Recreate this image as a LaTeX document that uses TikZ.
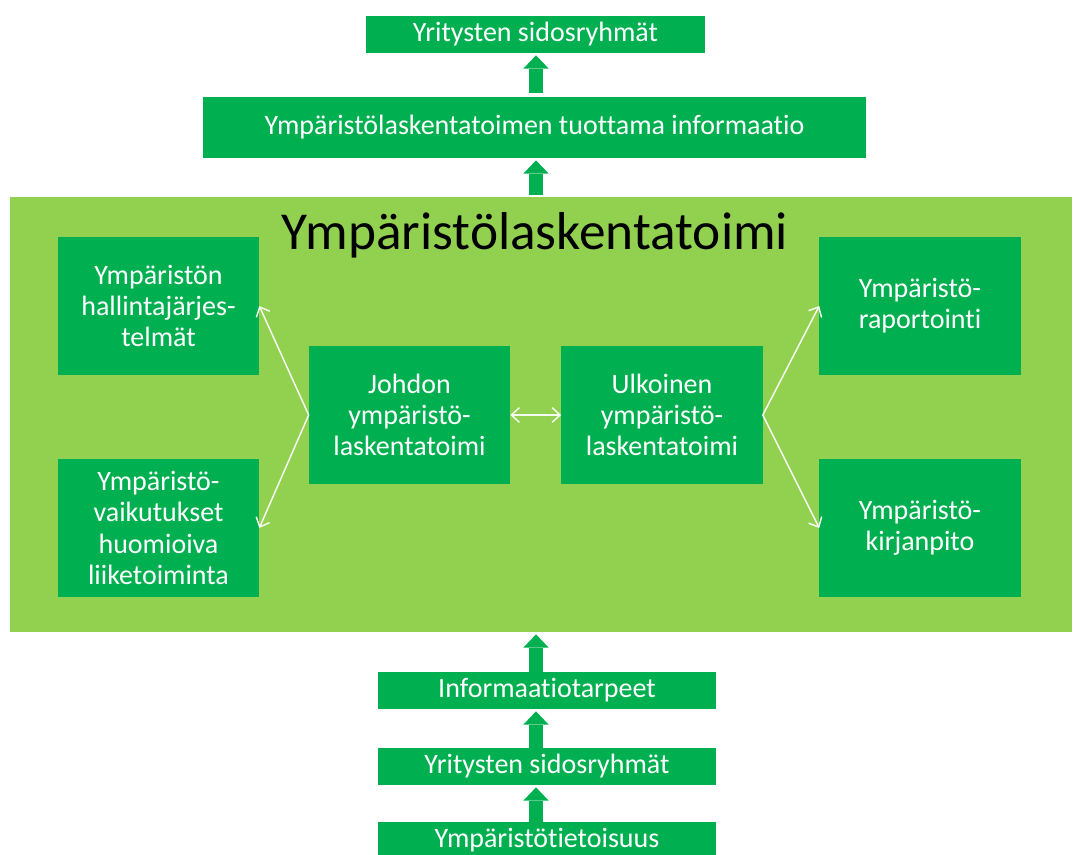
\documentclass[tikz,border=0pt]{standalone}
\usepackage{fontspec}
\setmainfont{Carlito}[Ligatures=NoCommon]
\usetikzlibrary{arrows.meta}
\definecolor{tummavihrea}{HTML}{00B050}
\definecolor{vaaleavihrea}{HTML}{92D050}

\begin{document}
\begin{tikzpicture}[x=0.75pt,y=-0.75pt,
    laatikko/.style={fill=tummavihrea, text=white, inner sep=0pt, align=center,
      font=\fontsize{21}{23.3}\selectfont},
    pieni/.style={laatikko, minimum width=150.8pt, minimum height=103.5pt},
    isonuoli/.style={draw=tummavihrea, line width=10.5pt,
      -{Triangle[width=19pt,length=10pt,line width=0pt]}},
    ohutnuoli/.style={draw=white!92!vaaleavihrea, line width=1.1pt,
      >={Straight Barb[length=6pt,width=11pt]}}]
  \useasboundingbox (0,0) rectangle (1074,855);

  \node[fill=vaaleavihrea, minimum width=796.5pt, minimum height=326.3pt, inner sep=0pt] (paneeli) at (541,414.5) {};
  \node[anchor=base, font=\fontsize{40}{46}\selectfont] (otsikko) at (535,250) {Ympäristölaskentatoimi};

  \node[laatikko, minimum width=254.3pt, minimum height=27.8pt] (sidos) at (535.5,34.5) {Yritysten sidosryhmät};
  \node[laatikko, minimum width=497.3pt, minimum height=45.8pt] (info) at (534.5,127.5) {Ympäristölaskentatoimen tuottama informaatio};

  \node[pieni] (hallinta) at (158.5,306) {Ympäristön\\hallintajärjes-\\telmät};
  \node[pieni] (vaikutus) at (158.5,528) {Ympäristö-\\vaikutukset\\huomioiva\\liiketoiminta};
  \node[pieni] (johdon) at (409.5,415) {Johdon\\ympäristö-\\laskentatoimi};
  \node[pieni] (ulkoinen) at (662,415) {Ulkoinen\\ympäristö-\\laskentatoimi};
  \node[pieni] (raportointi) at (920,306) {Ympäristö-\\raportointi};
  \node[pieni] (kirjanpito) at (920,528) {Ympäristö-\\kirjanpito};

  \node[laatikko, minimum width=253.5pt, minimum height=27.8pt] (tarpeet) at (547,690.5) {Informaatiotarpeet};
  \node[laatikko, minimum width=253.5pt, minimum height=27.8pt] (sidos2) at (547,766.5) {Yritysten sidosryhmät};
  \node[laatikko, minimum width=253.5pt, minimum height=27.8pt] (tietoisuus) at (547,840.5) {Ympäristötietoisuus};

  % paksut nuolet
  \coordinate (akseli) at (536,0);
  \draw[isonuoli, shorten <=3pt, shorten >=1.5pt] (info.north -| akseli) -- (sidos.south -| akseli);
  \draw[isonuoli, shorten <=1.5pt, shorten >=1.5pt] (paneeli.north -| akseli) -- (info.south -| akseli);
  \foreach \a/\b in {tarpeet/paneeli, sidos2/tarpeet, tietoisuus/sidos2}{
    \draw[isonuoli, shorten >=1.5pt] (\a.north -| akseli) -- (\b.south -| akseli);
  }

  % ohuet nuolet
  \draw[ohutnuoli, ->] (johdon.west) -- (hallinta.east);
  \draw[ohutnuoli, ->] (johdon.west) -- (vaikutus.east);
  \draw[ohutnuoli, <->] (johdon.east) -- (ulkoinen.west);
  \draw[ohutnuoli, ->] (ulkoinen.east) -- (raportointi.west);
  \draw[ohutnuoli, ->] (ulkoinen.east) -- (kirjanpito.west);
\end{tikzpicture}
\end{document}
